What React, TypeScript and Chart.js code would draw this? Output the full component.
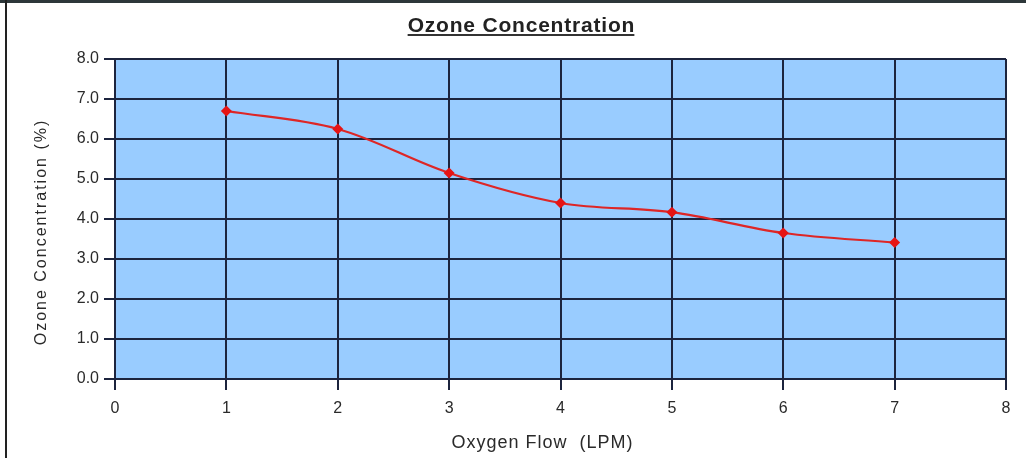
import React, { useEffect, useRef } from "react";
import { Chart, registerables } from "chart.js";

Chart.register(...registerables);

const chartTitle = "Ozone Concentration";
const xAxisTitle = "Oxygen Flow  (LPM)";
const yAxisTitle = "Ozone Concentration (%)";
const flowLPM = [1, 2, 3, 4, 5, 6, 7];
const ozonePct = [6.7, 6.25, 5.15, 4.4, 4.17, 3.65, 3.41];
const xRange = [0, 8];
const yRange = [0, 8];

const GRID = "rgb(28,36,62)";
const TEXT = "#2a2a2a";

const decorPlugin = {
  id: "decor",
  beforeDraw(chart: any) {
    const { ctx, chartArea } = chart;
    ctx.save();
    ctx.fillStyle = "#ffffff";
    ctx.fillRect(0, 0, chart.width, chart.height);
    ctx.fillStyle = "rgb(153,204,255)";
    ctx.fillRect(chartArea.left, chartArea.top, chartArea.right - chartArea.left, chartArea.bottom - chartArea.top);
    ctx.restore();
  },
  afterDraw(chart: any) {
    const { ctx } = chart;
    ctx.save();
    // frame
    ctx.fillStyle = "rgb(45,55,58)";
    ctx.fillRect(0, 0, chart.width, 3);
    ctx.fillStyle = "#222";
    ctx.fillRect(5, 0, 2, chart.height);
    // title
    ctx.fillStyle = "#222";
    ctx.font = 'bold 21px "Liberation Sans", Arial, sans-serif';
    (ctx as any).letterSpacing = "0.8px";
    ctx.textAlign = "left";
    ctx.textBaseline = "alphabetic";
    const tw = ctx.measureText(chartTitle).width - 0.8;
    const tx = 521 - tw / 2;
    ctx.fillText(chartTitle, tx, 32);
    ctx.fillStyle = "#333";
    ctx.fillRect(tx, 34, tw, 2);
    // x title
    ctx.fillStyle = TEXT;
    ctx.font = '18px "Liberation Sans", Arial, sans-serif';
    (ctx as any).letterSpacing = "1px";
    const xw = ctx.measureText(xAxisTitle).width - 1;
    ctx.fillText(xAxisTitle, 542 - xw / 2, 448);
    // y title
    ctx.font = '16px "Liberation Sans", Arial, sans-serif';
    (ctx as any).letterSpacing = "2px";
    const yw = ctx.measureText(yAxisTitle).width - 2;
    ctx.translate(42, 233);
    ctx.rotate(-Math.PI / 2);
    ctx.textBaseline = "middle";
    ctx.fillText(yAxisTitle, -yw / 2, 0);
    ctx.restore();
  },
};

export default function App() {
  const ref = useRef<HTMLCanvasElement | null>(null);
  useEffect(() => {
    if (!ref.current) return;
    const chart = new Chart(ref.current, {
      type: "line",
      data: {
        datasets: [
          {
            data: flowLPM.map((x, i) => ({ x, y: ozonePct[i] })),
            borderColor: "rgb(222,38,38)",
            backgroundColor: "rgb(230,20,20)",
            borderWidth: 2.2,
            pointStyle: "rectRot",
            pointRadius: 5.5,
            pointBorderWidth: 0,
            tension: 0.35,
            fill: false,
          },
        ],
      },
      options: {
        animation: false,
        responsive: true,
        maintainAspectRatio: false,
        layout: { padding: { top: 59, right: 20, bottom: 0, left: 0 } },
        plugins: { legend: { display: false }, title: { display: false }, tooltip: { enabled: false } },
        scales: {
          x: {
            type: "linear",
            min: xRange[0],
            max: xRange[1],
            afterFit: (s: any) => {
              s.height = 79;
            },
            ticks: {
              stepSize: 1,
              color: TEXT,
              padding: 9,
              font: { family: '"Liberation Sans", Arial, sans-serif', size: 16 },
            },
            grid: { color: GRID, lineWidth: 2, tickLength: 11, tickColor: GRID, drawTicks: true },
            border: { display: true, color: GRID, width: 2 },
          },
          y: {
            min: yRange[0],
            max: yRange[1],
            afterFit: (s: any) => {
              s.width = 115;
            },
            ticks: {
              stepSize: 1,
              color: TEXT,
              padding: 5,
              font: { family: '"Liberation Sans", Arial, sans-serif', size: 16 },
              callback: (v: any) => Number(v).toFixed(1),
            },
            grid: { color: GRID, lineWidth: 2, tickLength: 11, tickColor: GRID, drawTicks: true },
            border: { display: true, color: GRID, width: 2 },
          },
        },
      },
      plugins: [decorPlugin],
    });
    return () => chart.destroy();
  }, []);
  return (
    <div style={{ position: "fixed", left: 0, top: 0, width: 1026, height: 458, background: "#fff" }}>
      <canvas ref={ref} />
    </div>
  );
}
